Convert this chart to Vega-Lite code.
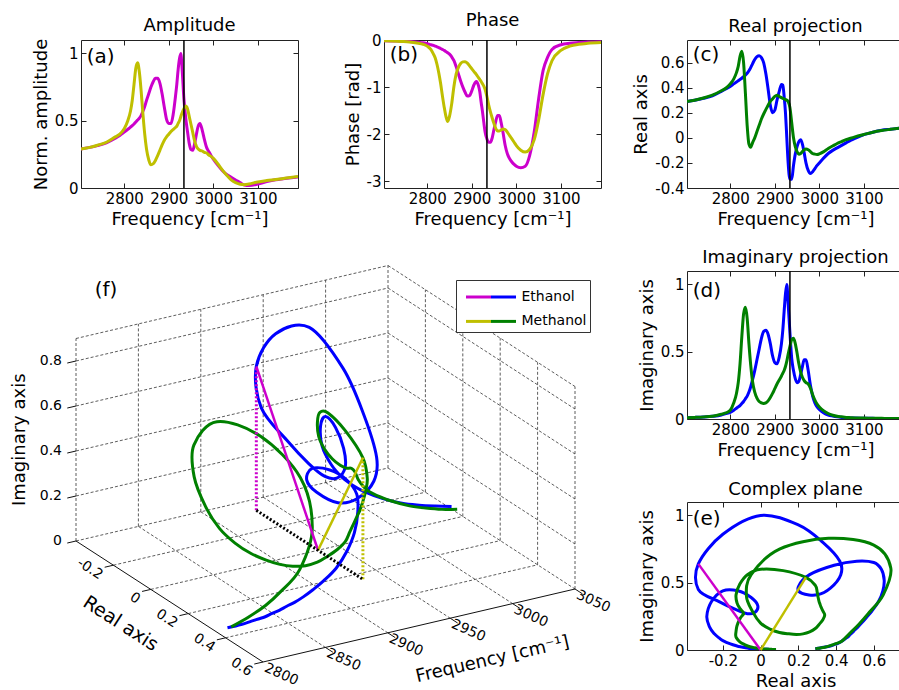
{
"$schema": "https://vega.github.io/schema/vega-lite/v6.json",
"autosize": "none",
"padding": {"left": 81, "top": 40, "right": 818, "bottom": 650},
"background": "white",
"config": {
  "font": "DejaVu Sans",
  "view": {"stroke": "#222", "strokeWidth": 1},
  "axis": {"domain": false, "grid": false, "tickSize": -5, "tickColor": "#222", "tickWidth": 1, "labelFontSize": 15, "labelColor": "black", "labelPadding": 8, "labelFlush": false, "labelOverlap": false, "labelSeparation": -30, "labelBound": false, "titleFontSize": 18, "titleFontWeight": "normal", "titleColor": "black", "titlePadding": 4},
  "axisY": {"labelOverlap": false},
  "title": {"fontSize": 18, "fontWeight": "normal", "color": "black", "offset": 3, "frame": "group"},
  "legend": {"labelFontSize": 14, "labelColor": "black"}
},
"datasets": {
  "spec": [
{"s":"Ethanol","f":2703,"re":0.29,"im":0.01,"amp":0.29,"ph":-0.015},
{"s":"Ethanol","f":2720,"re":0.30,"im":0.012,"amp":0.30,"ph":-0.02},
{"s":"Ethanol","f":2740,"re":0.315,"im":0.015,"amp":0.315,"ph":-0.025},
{"s":"Ethanol","f":2760,"re":0.335,"im":0.02,"amp":0.336,"ph":-0.03},
{"s":"Ethanol","f":2780,"re":0.37,"im":0.03,"amp":0.37,"ph":-0.05},
{"s":"Ethanol","f":2790,"re":0.39,"im":0.04,"amp":0.39,"ph":-0.06},
{"s":"Ethanol","f":2800,"re":0.41,"im":0.05,"amp":0.415,"ph":-0.08},
{"s":"Ethanol","f":2808,"re":0.43,"im":0.065,"amp":0.436,"ph":-0.10},
{"s":"Ethanol","f":2814,"re":0.445,"im":0.08,"amp":0.452,"ph":-0.115},
{"s":"Ethanol","f":2818,"re":0.455,"im":0.09,"amp":0.464,"ph":-0.13},
{"s":"Ethanol","f":2822,"re":0.465,"im":0.10,"amp":0.476,"ph":-0.145},
{"s":"Ethanol","f":2826,"re":0.475,"im":0.115,"amp":0.49,"ph":-0.16},
{"s":"Ethanol","f":2830,"re":0.487,"im":0.13,"amp":0.505,"ph":-0.18},
{"s":"Ethanol","f":2834,"re":0.50,"im":0.15,"amp":0.52,"ph":-0.20},
{"s":"Ethanol","f":2838,"re":0.515,"im":0.17,"amp":0.54,"ph":-0.22},
{"s":"Ethanol","f":2842,"re":0.535,"im":0.20,"amp":0.57,"ph":-0.245},
{"s":"Ethanol","f":2846,"re":0.56,"im":0.24,"amp":0.605,"ph":-0.27},
{"s":"Ethanol","f":2850,"re":0.59,"im":0.29,"amp":0.65,"ph":-0.30},
{"s":"Ethanol","f":2855,"re":0.625,"im":0.36,"amp":0.70,"ph":-0.36},
{"s":"Ethanol","f":2860,"re":0.648,"im":0.44,"amp":0.75,"ph":-0.44},
{"s":"Ethanol","f":2865,"re":0.655,"im":0.52,"amp":0.79,"ph":-0.57},
{"s":"Ethanol","f":2870,"re":0.64,"im":0.60,"amp":0.815,"ph":-0.72},
{"s":"Ethanol","f":2875,"re":0.60,"im":0.65,"amp":0.815,"ph":-0.87},
{"s":"Ethanol","f":2880,"re":0.51,"im":0.66,"amp":0.78,"ph":-1.0},
{"s":"Ethanol","f":2885,"re":0.39,"im":0.63,"amp":0.70,"ph":-1.11},
{"s":"Ethanol","f":2890,"re":0.26,"im":0.56,"amp":0.60,"ph":-1.19},
{"s":"Ethanol","f":2895,"re":0.20,"im":0.47,"amp":0.51,"ph":-1.18},
{"s":"Ethanol","f":2900,"re":0.22,"im":0.42,"amp":0.48,"ph":-1.08},
{"s":"Ethanol","f":2905,"re":0.30,"im":0.41,"amp":0.48,"ph":-0.95},
{"s":"Ethanol","f":2910,"re":0.37,"im":0.46,"amp":0.55,"ph":-0.88},
{"s":"Ethanol","f":2915,"re":0.425,"im":0.56,"amp":0.68,"ph":-0.97},
{"s":"Ethanol","f":2918,"re":0.42,"im":0.66,"amp":0.77,"ph":-1.1},
{"s":"Ethanol","f":2921,"re":0.33,"im":0.80,"amp":0.88,"ph":-1.32},
{"s":"Ethanol","f":2924,"re":0.20,"im":0.93,"amp":0.96,"ph":-1.52},
{"s":"Ethanol","f":2927,"re":0.0,"im":1.0,"amp":1.0,"ph":-1.75},
{"s":"Ethanol","f":2930,"re":-0.20,"im":0.86,"amp":0.88,"ph":-1.96},
{"s":"Ethanol","f":2934,"re":-0.33,"im":0.64,"amp":0.66,"ph":-2.1},
{"s":"Ethanol","f":2938,"re":-0.33,"im":0.45,"amp":0.52,"ph":-2.17},
{"s":"Ethanol","f":2942,"re":-0.22,"im":0.36,"amp":0.42,"ph":-2.17},
{"s":"Ethanol","f":2946,"re":-0.13,"im":0.30,"amp":0.33,"ph":-2.07},
{"s":"Ethanol","f":2950,"re":-0.07,"im":0.27,"amp":0.285,"ph":-1.89},
{"s":"Ethanol","f":2954,"re":-0.03,"im":0.28,"amp":0.28,"ph":-1.72},
{"s":"Ethanol","f":2958,"re":-0.015,"im":0.33,"amp":0.33,"ph":-1.6},
{"s":"Ethanol","f":2962,"re":-0.05,"im":0.39,"amp":0.40,"ph":-1.6},
{"s":"Ethanol","f":2966,"re":-0.12,"im":0.44,"amp":0.46,"ph":-1.76},
{"s":"Ethanol","f":2970,"re":-0.20,"im":0.44,"amp":0.48,"ph":-1.96},
{"s":"Ethanol","f":2975,"re":-0.26,"im":0.36,"amp":0.43,"ph":-2.24},
{"s":"Ethanol","f":2980,"re":-0.285,"im":0.25,"amp":0.36,"ph":-2.42},
{"s":"Ethanol","f":2985,"re":-0.27,"im":0.17,"amp":0.30,"ph":-2.52},
{"s":"Ethanol","f":2990,"re":-0.245,"im":0.12,"amp":0.27,"ph":-2.59},
{"s":"Ethanol","f":2995,"re":-0.22,"im":0.09,"amp":0.24,"ph":-2.64},
{"s":"Ethanol","f":3000,"re":-0.20,"im":0.07,"amp":0.215,"ph":-2.68},
{"s":"Ethanol","f":3010,"re":-0.16,"im":0.045,"amp":0.17,"ph":-2.71},
{"s":"Ethanol","f":3020,"re":-0.125,"im":0.03,"amp":0.13,"ph":-2.68},
{"s":"Ethanol","f":3030,"re":-0.10,"im":0.022,"amp":0.10,"ph":-2.45},
{"s":"Ethanol","f":3040,"re":-0.08,"im":0.016,"amp":0.08,"ph":-1.96},
{"s":"Ethanol","f":3050,"re":-0.06,"im":0.012,"amp":0.06,"ph":-1.25},
{"s":"Ethanol","f":3060,"re":-0.04,"im":0.01,"amp":0.04,"ph":-0.65},
{"s":"Ethanol","f":3070,"re":-0.02,"im":0.008,"amp":0.022,"ph":-0.37},
{"s":"Ethanol","f":3080,"re":-0.005,"im":0.007,"amp":0.018,"ph":-0.2},
{"s":"Ethanol","f":3100,"re":0.025,"im":0.006,"amp":0.03,"ph":-0.1},
{"s":"Ethanol","f":3120,"re":0.045,"im":0.005,"amp":0.048,"ph":-0.07},
{"s":"Ethanol","f":3140,"re":0.06,"im":0.004,"amp":0.062,"ph":-0.055},
{"s":"Ethanol","f":3160,"re":0.068,"im":0.004,"amp":0.07,"ph":-0.042},
{"s":"Ethanol","f":3190,"re":0.08,"im":0.003,"amp":0.082,"ph":-0.035},
{"s":"Methanol","f":2703,"re":0.29,"im":0.01,"amp":0.29,"ph":-0.015},
{"s":"Methanol","f":2720,"re":0.30,"im":0.012,"amp":0.30,"ph":-0.02},
{"s":"Methanol","f":2740,"re":0.318,"im":0.015,"amp":0.318,"ph":-0.03},
{"s":"Methanol","f":2760,"re":0.34,"im":0.02,"amp":0.34,"ph":-0.04},
{"s":"Methanol","f":2780,"re":0.375,"im":0.035,"amp":0.38,"ph":-0.07},
{"s":"Methanol","f":2790,"re":0.395,"im":0.045,"amp":0.40,"ph":-0.09},
{"s":"Methanol","f":2800,"re":0.43,"im":0.065,"amp":0.44,"ph":-0.13},
{"s":"Methanol","f":2808,"re":0.47,"im":0.12,"amp":0.50,"ph":-0.2},
{"s":"Methanol","f":2814,"re":0.52,"im":0.19,"amp":0.57,"ph":-0.3},
{"s":"Methanol","f":2818,"re":0.57,"im":0.27,"amp":0.65,"ph":-0.38},
{"s":"Methanol","f":2822,"re":0.65,"im":0.41,"amp":0.77,"ph":-0.52},
{"s":"Methanol","f":2826,"re":0.69,"im":0.61,"amp":0.89,"ph":-0.70},
{"s":"Methanol","f":2830,"re":0.60,"im":0.78,"amp":0.93,"ph":-0.92},
{"s":"Methanol","f":2834,"re":0.36,"im":0.83,"amp":0.86,"ph":-1.18},
{"s":"Methanol","f":2838,"re":0.10,"im":0.75,"amp":0.72,"ph":-1.42},
{"s":"Methanol","f":2842,"re":-0.05,"im":0.56,"amp":0.55,"ph":-1.62},
{"s":"Methanol","f":2846,"re":-0.075,"im":0.40,"amp":0.40,"ph":-1.73},
{"s":"Methanol","f":2850,"re":-0.04,"im":0.28,"amp":0.29,"ph":-1.62},
{"s":"Methanol","f":2855,"re":0.0,"im":0.20,"amp":0.21,"ph":-1.35},
{"s":"Methanol","f":2860,"re":0.05,"im":0.155,"amp":0.172,"ph":-0.98},
{"s":"Methanol","f":2865,"re":0.10,"im":0.13,"amp":0.18,"ph":-0.72},
{"s":"Methanol","f":2870,"re":0.15,"im":0.12,"amp":0.205,"ph":-0.58},
{"s":"Methanol","f":2875,"re":0.19,"im":0.116,"amp":0.24,"ph":-0.50},
{"s":"Methanol","f":2880,"re":0.225,"im":0.12,"amp":0.28,"ph":-0.465},
{"s":"Methanol","f":2885,"re":0.26,"im":0.135,"amp":0.32,"ph":-0.46},
{"s":"Methanol","f":2890,"re":0.29,"im":0.16,"amp":0.355,"ph":-0.49},
{"s":"Methanol","f":2895,"re":0.31,"im":0.19,"amp":0.38,"ph":-0.55},
{"s":"Methanol","f":2900,"re":0.33,"im":0.225,"amp":0.40,"ph":-0.61},
{"s":"Methanol","f":2905,"re":0.34,"im":0.26,"amp":0.42,"ph":-0.67},
{"s":"Methanol","f":2910,"re":0.33,"im":0.29,"amp":0.435,"ph":-0.73},
{"s":"Methanol","f":2915,"re":0.32,"im":0.32,"amp":0.45,"ph":-0.80},
{"s":"Methanol","f":2918,"re":0.315,"im":0.34,"amp":0.46,"ph":-0.84},
{"s":"Methanol","f":2921,"re":0.31,"im":0.36,"amp":0.48,"ph":-0.88},
{"s":"Methanol","f":2924,"re":0.305,"im":0.39,"amp":0.50,"ph":-0.93},
{"s":"Methanol","f":2927,"re":0.30,"im":0.43,"amp":0.53,"ph":-0.98},
{"s":"Methanol","f":2930,"re":0.29,"im":0.48,"amp":0.56,"ph":-1.05},
{"s":"Methanol","f":2934,"re":0.24,"im":0.54,"amp":0.59,"ph":-1.2},
{"s":"Methanol","f":2938,"re":0.12,"im":0.59,"amp":0.61,"ph":-1.38},
{"s":"Methanol","f":2942,"re":0.0,"im":0.60,"amp":0.59,"ph":-1.53},
{"s":"Methanol","f":2946,"re":-0.07,"im":0.56,"amp":0.53,"ph":-1.66},
{"s":"Methanol","f":2950,"re":-0.11,"im":0.49,"amp":0.47,"ph":-1.78},
{"s":"Methanol","f":2954,"re":-0.13,"im":0.41,"amp":0.41,"ph":-1.88},
{"s":"Methanol","f":2958,"re":-0.125,"im":0.35,"amp":0.35,"ph":-1.93},
{"s":"Methanol","f":2962,"re":-0.11,"im":0.31,"amp":0.31,"ph":-1.93},
{"s":"Methanol","f":2966,"re":-0.095,"im":0.285,"amp":0.29,"ph":-1.91},
{"s":"Methanol","f":2970,"re":-0.09,"im":0.27,"amp":0.28,"ph":-1.89},
{"s":"Methanol","f":2975,"re":-0.095,"im":0.26,"amp":0.275,"ph":-1.90},
{"s":"Methanol","f":2980,"re":-0.11,"im":0.23,"amp":0.265,"ph":-1.96},
{"s":"Methanol","f":2985,"re":-0.125,"im":0.18,"amp":0.26,"ph":-2.03},
{"s":"Methanol","f":2990,"re":-0.13,"im":0.14,"amp":0.245,"ph":-2.10},
{"s":"Methanol","f":2995,"re":-0.132,"im":0.11,"amp":0.235,"ph":-2.17},
{"s":"Methanol","f":3000,"re":-0.128,"im":0.09,"amp":0.22,"ph":-2.24},
{"s":"Methanol","f":3010,"re":-0.11,"im":0.06,"amp":0.18,"ph":-2.34},
{"s":"Methanol","f":3020,"re":-0.085,"im":0.04,"amp":0.135,"ph":-2.38},
{"s":"Methanol","f":3030,"re":-0.065,"im":0.028,"amp":0.095,"ph":-2.32},
{"s":"Methanol","f":3040,"re":-0.045,"im":0.02,"amp":0.06,"ph":-2.12},
{"s":"Methanol","f":3050,"re":-0.03,"im":0.016,"amp":0.04,"ph":-1.7},
{"s":"Methanol","f":3060,"re":-0.015,"im":0.012,"amp":0.028,"ph":-1.16},
{"s":"Methanol","f":3070,"re":-0.003,"im":0.01,"amp":0.025,"ph":-0.72},
{"s":"Methanol","f":3080,"re":0.008,"im":0.008,"amp":0.03,"ph":-0.44},
{"s":"Methanol","f":3100,"re":0.027,"im":0.007,"amp":0.045,"ph":-0.22},
{"s":"Methanol","f":3120,"re":0.045,"im":0.006,"amp":0.055,"ph":-0.13},
{"s":"Methanol","f":3140,"re":0.058,"im":0.005,"amp":0.063,"ph":-0.09},
{"s":"Methanol","f":3160,"re":0.068,"im":0.004,"amp":0.072,"ph":-0.07},
{"s":"Methanol","f":3190,"re":0.082,"im":0.004,"amp":0.086,"ph":-0.055}
  ],
  "mk": [
    {"s":"Ethanol","f":2934,"re":-0.33,"im":0.64},
    {"s":"Methanol","f":2934,"re":0.24,"im":0.54}
  ],
  "g3": [
    {"k":"g","f1":2850,"r1":-0.4,"i1":0,"f2":2850,"r2":0.6,"i2":0},
    {"k":"g","f1":2900,"r1":-0.4,"i1":0,"f2":2900,"r2":0.6,"i2":0},
    {"k":"g","f1":2950,"r1":-0.4,"i1":0,"f2":2950,"r2":0.6,"i2":0},
    {"k":"g","f1":3000,"r1":-0.4,"i1":0,"f2":3000,"r2":0.6,"i2":0},
    {"k":"g","f1":3050,"r1":-0.4,"i1":0,"f2":3050,"r2":0.6,"i2":0},
    {"k":"g","f1":2800,"r1":-0.4,"i1":0,"f2":3050,"r2":-0.4,"i2":0},
    {"k":"g","f1":2800,"r1":-0.2,"i1":0,"f2":3050,"r2":-0.2,"i2":0},
    {"k":"g","f1":2800,"r1":0,"i1":0,"f2":3050,"r2":0,"i2":0},
    {"k":"g","f1":2800,"r1":0.2,"i1":0,"f2":3050,"r2":0.2,"i2":0},
    {"k":"g","f1":2800,"r1":0.4,"i1":0,"f2":3050,"r2":0.4,"i2":0},
    {"k":"g","f1":2800,"r1":-0.4,"i1":0,"f2":2800,"r2":-0.4,"i2":0.9},
    {"k":"g","f1":2850,"r1":-0.4,"i1":0,"f2":2850,"r2":-0.4,"i2":0.9},
    {"k":"g","f1":2900,"r1":-0.4,"i1":0,"f2":2900,"r2":-0.4,"i2":0.9},
    {"k":"g","f1":2950,"r1":-0.4,"i1":0,"f2":2950,"r2":-0.4,"i2":0.9},
    {"k":"g","f1":3000,"r1":-0.4,"i1":0,"f2":3000,"r2":-0.4,"i2":0.9},
    {"k":"g","f1":3050,"r1":-0.4,"i1":0,"f2":3050,"r2":-0.4,"i2":0.9},
    {"k":"g","f1":2800,"r1":-0.4,"i1":0.2,"f2":3050,"r2":-0.4,"i2":0.2},
    {"k":"g","f1":2800,"r1":-0.4,"i1":0.4,"f2":3050,"r2":-0.4,"i2":0.4},
    {"k":"g","f1":2800,"r1":-0.4,"i1":0.6,"f2":3050,"r2":-0.4,"i2":0.6},
    {"k":"g","f1":2800,"r1":-0.4,"i1":0.8,"f2":3050,"r2":-0.4,"i2":0.8},
    {"k":"g","f1":2800,"r1":-0.4,"i1":0.9,"f2":3050,"r2":-0.4,"i2":0.9},
    {"k":"g","f1":3050,"r1":-0.2,"i1":0,"f2":3050,"r2":-0.2,"i2":0.9},
    {"k":"g","f1":3050,"r1":0,"i1":0,"f2":3050,"r2":0,"i2":0.9},
    {"k":"g","f1":3050,"r1":0.2,"i1":0,"f2":3050,"r2":0.2,"i2":0.9},
    {"k":"g","f1":3050,"r1":0.4,"i1":0,"f2":3050,"r2":0.4,"i2":0.9},
    {"k":"g","f1":3050,"r1":0.6,"i1":0,"f2":3050,"r2":0.6,"i2":0.9},
    {"k":"g","f1":3050,"r1":-0.4,"i1":0.2,"f2":3050,"r2":0.6,"i2":0.2},
    {"k":"g","f1":3050,"r1":-0.4,"i1":0.4,"f2":3050,"r2":0.6,"i2":0.4},
    {"k":"g","f1":3050,"r1":-0.4,"i1":0.6,"f2":3050,"r2":0.6,"i2":0.6},
    {"k":"g","f1":3050,"r1":-0.4,"i1":0.8,"f2":3050,"r2":0.6,"i2":0.8},
    {"k":"g","f1":3050,"r1":-0.4,"i1":0.9,"f2":3050,"r2":0.6,"i2":0.9},
    {"k":"a","f1":2800,"r1":-0.4,"i1":0,"f2":2800,"r2":0.6,"i2":0},
    {"k":"a","f1":2800,"r1":0.6,"i1":0,"f2":3050,"r2":0.6,"i2":0},
    {"k":"a","f1":2800,"r1":-0.4,"i1":0,"f2":2793,"r2":-0.4,"i2":0},
    {"k":"a","f1":2800,"r1":-0.4,"i1":0.2,"f2":2793,"r2":-0.4,"i2":0.2},
    {"k":"a","f1":2800,"r1":-0.4,"i1":0.4,"f2":2793,"r2":-0.4,"i2":0.4},
    {"k":"a","f1":2800,"r1":-0.4,"i1":0.6,"f2":2793,"r2":-0.4,"i2":0.6},
    {"k":"a","f1":2800,"r1":-0.4,"i1":0.8,"f2":2793,"r2":-0.4,"i2":0.8},
    {"k":"a","f1":2800,"r1":-0.2,"i1":0,"f2":2793,"r2":-0.2,"i2":0},
    {"k":"a","f1":2800,"r1":0,"i1":0,"f2":2793,"r2":0,"i2":0},
    {"k":"a","f1":2800,"r1":0.2,"i1":0,"f2":2793,"r2":0.2,"i2":0},
    {"k":"a","f1":2800,"r1":0.4,"i1":0,"f2":2793,"r2":0.4,"i2":0},
    {"k":"a","f1":2800,"r1":0.6,"i1":0,"f2":2793,"r2":0.6,"i2":0},
    {"k":"a","f1":2850,"r1":0.6,"i1":0,"f2":2850,"r2":0.64,"i2":0},
    {"k":"a","f1":2900,"r1":0.6,"i1":0,"f2":2900,"r2":0.64,"i2":0},
    {"k":"a","f1":2950,"r1":0.6,"i1":0,"f2":2950,"r2":0.64,"i2":0},
    {"k":"a","f1":3000,"r1":0.6,"i1":0,"f2":3000,"r2":0.64,"i2":0},
    {"k":"a","f1":3050,"r1":0.6,"i1":0,"f2":3050,"r2":0.64,"i2":0}
  ],
  "l3": [
    {"ax":"im","f":2800,"re":-0.4,"im":0,"t":"0"},
    {"ax":"im","f":2800,"re":-0.4,"im":0.2,"t":"0.2"},
    {"ax":"im","f":2800,"re":-0.4,"im":0.4,"t":"0.4"},
    {"ax":"im","f":2800,"re":-0.4,"im":0.6,"t":"0.6"},
    {"ax":"im","f":2800,"re":-0.4,"im":0.8,"t":"0.8"},
    {"ax":"re","f":2800,"re":-0.2,"im":0,"t":"-0.2"},
    {"ax":"re","f":2800,"re":0,"im":0,"t":"0"},
    {"ax":"re","f":2800,"re":0.2,"im":0,"t":"0.2"},
    {"ax":"re","f":2800,"re":0.4,"im":0,"t":"0.4"},
    {"ax":"re","f":2800,"re":0.6,"im":0,"t":"0.6"},
    {"ax":"fr","f":2800,"re":0.6,"im":0,"t":"2800"},
    {"ax":"fr","f":2850,"re":0.6,"im":0,"t":"2850"},
    {"ax":"fr","f":2900,"re":0.6,"im":0,"t":"2900"},
    {"ax":"fr","f":2950,"re":0.6,"im":0,"t":"2950"},
    {"ax":"fr","f":3000,"re":0.6,"im":0,"t":"3000"},
    {"ax":"fr","f":3050,"re":0.6,"im":0,"t":"3050"},
    {"ax":"ti","f":2800,"re":-0.4,"im":0.45,"t":"Imaginary axis"},
    {"ax":"tr","f":2800,"re":-0.03,"im":0,"t":"Real axis"},
    {"ax":"tf","f":2975,"re":0.6,"im":0,"t":"Frequency [cm⁻¹]"},
    {"ax":"pl","f":2815,"re":-0.4,"im":1.07,"t":"(f)"}
  ],
  "pan": [
    {"f": 2934, "fl": 2716, "amp": 0.93, "ph": -0.45, "re": 0.61, "im": 0.91, "t": "x"}
  ]
},
"columns": 3,
"spacing": {"row": 83, "column": 86},
"bounds": "flush",
"resolve": {"scale": {"color": "independent", "stroke": "independent"}, "legend": {"color": "independent", "stroke": "independent"}},
"concat": [
 {
  "width": 217, "height": 148,
  "title": {"text": "Amplitude"},
  "resolve": {"axis": {"x": "independent", "y": "independent"}},
  "layer": [
   {"data": {"name": "spec"},
    "mark": {"type": "line", "interpolate": "monotone", "strokeWidth": 3, "clip": true},
    "encoding": {
     "x": {"field": "f", "type": "quantitative", "scale": {"domain": [2703, 3190], "nice": false, "zero": false}, "axis": {"orient": "bottom", "values": [2800, 2900, 3000, 3100], "labelOverlap": false, "labelExpr": "'' + datum.value", "title": "Frequency [cm⁻¹]"}},
     "y": {"field": "amp", "type": "quantitative", "scale": {"domain": [0, 1.1], "nice": false}, "axis": {"orient": "left", "values": [0, 0.5, 1], "labelOverlap": false, "labelExpr": "'' + datum.value", "title": "Norm. amplitude"}},
     "color": {"field": "s", "type": "nominal", "scale": {"domain": ["Ethanol", "Methanol"], "range": ["#CC00CC", "#BFBF00"]}, "legend": null}
    }},
   {"data": {"name": "pan"},
    "mark": {"type": "rule", "color": "black", "strokeWidth": 1.5},
    "encoding": {"x": {"field": "f", "type": "quantitative", "axis": {"orient": "top", "values": [2800, 2900, 3000, 3100], "labels": false, "title": null}}}},
   {"data": {"name": "pan"},
    "mark": {"type": "text", "align": "left", "baseline": "alphabetic", "fontSize": 20, "text": "(a)"},
    "encoding": {"x": {"field": "fl", "type": "quantitative", "axis": null}, "y": {"field": "amp", "type": "quantitative", "axis": {"orient": "right", "values": [0, 0.5, 1], "labels": false, "title": null}}}}
  ]
 },
 {
  "width": 217, "height": 148,
  "title": {"text": "Phase"},
  "resolve": {"axis": {"x": "independent", "y": "independent"}},
  "layer": [
   {"data": {"name": "spec"},
    "mark": {"type": "line", "interpolate": "monotone", "strokeWidth": 3, "clip": true},
    "encoding": {
     "x": {"field": "f", "type": "quantitative", "scale": {"domain": [2703, 3190], "nice": false, "zero": false}, "axis": {"orient": "bottom", "values": [2800, 2900, 3000, 3100], "labelOverlap": false, "labelExpr": "'' + datum.value", "title": "Frequency [cm⁻¹]"}},
     "y": {"field": "ph", "type": "quantitative", "scale": {"domain": [-3.1416, 0], "nice": false, "zero": false}, "axis": {"orient": "left", "values": [-3, -2, -1, 0], "labelOverlap": false, "labelExpr": "'' + datum.value", "title": "Phase [rad]"}},
     "color": {"field": "s", "type": "nominal", "scale": {"domain": ["Ethanol", "Methanol"], "range": ["#CC00CC", "#BFBF00"]}, "legend": null}
    }},
   {"data": {"name": "pan"},
    "mark": {"type": "rule", "color": "black", "strokeWidth": 1.5},
    "encoding": {"x": {"field": "f", "type": "quantitative", "axis": {"orient": "top", "values": [2800, 2900, 3000, 3100], "labels": false, "title": null}}}},
   {"data": {"name": "pan"},
    "mark": {"type": "text", "align": "left", "baseline": "alphabetic", "fontSize": 20, "text": "(b)"},
    "encoding": {"x": {"field": "fl", "type": "quantitative", "axis": null}, "y": {"field": "ph", "type": "quantitative", "axis": {"orient": "right", "values": [-3, -2, -1, 0], "labels": false, "title": null}}}}
  ]
 },
 {
  "width": 217, "height": 148,
  "title": {"text": "Real projection"},
  "resolve": {"axis": {"x": "independent", "y": "independent"}},
  "layer": [
   {"data": {"name": "spec"},
    "mark": {"type": "line", "interpolate": "monotone", "strokeWidth": 3, "clip": true},
    "encoding": {
     "x": {"field": "f", "type": "quantitative", "scale": {"domain": [2703, 3190], "nice": false, "zero": false}, "axis": {"orient": "bottom", "values": [2800, 2900, 3000, 3100], "labelOverlap": false, "labelExpr": "'' + datum.value", "title": "Frequency [cm⁻¹]"}},
     "y": {"field": "re", "type": "quantitative", "scale": {"domain": [-0.4, 0.78], "nice": false, "zero": false}, "axis": {"orient": "left", "values": [-0.4, -0.2, 0, 0.2, 0.4, 0.6], "tickCount": 6, "labelOverlap": false, "labelSeparation": -30, "labelExpr": "'' + datum.value", "title": "Real axis"}},
     "color": {"field": "s", "type": "nominal", "scale": {"domain": ["Ethanol", "Methanol"], "range": ["#0000FF", "#008000"]}, "legend": null}
    }},
   {"data": {"name": "pan"},
    "mark": {"type": "rule", "color": "black", "strokeWidth": 1.5},
    "encoding": {"x": {"field": "f", "type": "quantitative", "axis": {"orient": "top", "values": [2800, 2900, 3000, 3100], "labels": false, "title": null}}}},
   {"data": {"name": "pan"},
    "mark": {"type": "text", "align": "left", "baseline": "alphabetic", "fontSize": 20, "text": "(c)"},
    "encoding": {"x": {"field": "fl", "type": "quantitative", "axis": null}, "y": {"field": "re", "type": "quantitative", "axis": {"orient": "right", "values": [-0.4, -0.2, 0, 0.2, 0.4, 0.6], "labels": false, "title": null}}}}
  ]
 },
 {
  "width": 217, "height": 148,
  "view": {"stroke": null},
  "layer": [
   {"data": {"name": "g3"},
    "transform": [{"filter": "datum.k == 'g'"},
      {"calculate": "1.248*(datum.f1-2800)+187*(datum.r1-0.6)", "as": "u1"},
      {"calculate": "0.292*(datum.f1-2800)-121*(datum.r1-0.6)+225*datum.i1", "as": "v1"},
      {"calculate": "1.248*(datum.f2-2800)+187*(datum.r2-0.6)", "as": "u2"},
      {"calculate": "0.292*(datum.f2-2800)-121*(datum.r2-0.6)+225*datum.i2", "as": "v2"}],
    "mark": {"type": "rule", "color": "#333", "strokeWidth": 0.8, "strokeDash": [3, 2]},
    "encoding": {
     "x": {"field": "u1", "type": "quantitative", "scale": {"domain": [-182, 35], "nice": false, "zero": false}, "axis": null},
     "y": {"field": "v1", "type": "quantitative", "scale": {"domain": [243, 391], "nice": false, "zero": false}, "axis": null},
     "x2": {"field": "u2"}, "y2": {"field": "v2"}}},
   {"data": {"name": "g3"},
    "transform": [{"filter": "datum.k == 'a'"},
      {"calculate": "1.248*(datum.f1-2800)+187*(datum.r1-0.6)", "as": "u1"},
      {"calculate": "0.292*(datum.f1-2800)-121*(datum.r1-0.6)+225*datum.i1", "as": "v1"},
      {"calculate": "1.248*(datum.f2-2800)+187*(datum.r2-0.6)", "as": "u2"},
      {"calculate": "0.292*(datum.f2-2800)-121*(datum.r2-0.6)+225*datum.i2", "as": "v2"}],
    "mark": {"type": "rule", "color": "#111", "strokeWidth": 1},
    "encoding": {
     "x": {"field": "u1", "type": "quantitative", "axis": null},
     "y": {"field": "v1", "type": "quantitative", "axis": null},
     "x2": {"field": "u2"}, "y2": {"field": "v2"}}},
   {"data": {"name": "spec"},
    "transform": [{"filter": "datum.f >= 2800 && datum.f <= 3050"},
      {"calculate": "1.248*(datum.f-2800)+187*(datum.re-0.6)", "as": "u1"},
      {"calculate": "0.292*(datum.f-2800)-121*(datum.re-0.6)+225*datum.im", "as": "v1"}],
    "mark": {"type": "line", "interpolate": "cardinal", "strokeWidth": 3},
    "encoding": {
     "x": {"field": "u1", "type": "quantitative", "axis": null},
     "y": {"field": "v1", "type": "quantitative", "axis": null},
     "order": {"field": "f", "type": "quantitative"},
     "color": {"field": "s", "type": "nominal", "scale": {"domain": ["Ethanol", "Methanol"], "range": ["#0000FF", "#008000"]},
       "legend": {"orient": "none", "legendX": 375, "legendY": 9, "title": null, "symbolType": "stroke", "symbolSize": 625, "symbolStrokeWidth": 3, "symbolOffset": 30.5, "padding": 3, "strokeColor": "#333", "fillColor": "white", "labelFontSize": 14, "labelOffset": 4, "rowPadding": 3.4}}}},
   {"data": {"name": "mk"},
    "transform": [
      {"calculate": "datum.s + ' '", "as": "sp"},
      {"calculate": "1.248*(datum.f-2800)+187*(0-0.6)", "as": "u1"},
      {"calculate": "0.292*(datum.f-2800)-121*(0-0.6)", "as": "v1"},
      {"calculate": "1.248*(datum.f-2800)+187*(datum.re-0.6)", "as": "u2"},
      {"calculate": "0.292*(datum.f-2800)-121*(datum.re-0.6)+225*datum.im", "as": "v2"}],
    "mark": {"type": "rule", "strokeWidth": 2.5},
    "encoding": {
     "x": {"field": "u1", "type": "quantitative", "axis": null},
     "y": {"field": "v1", "type": "quantitative", "axis": null},
     "x2": {"field": "u2"}, "y2": {"field": "v2"},
     "stroke": {"field": "sp", "type": "nominal", "scale": {"domain": ["Ethanol ", "Methanol "], "range": ["#CC00CC", "#BFBF00"]},
       "legend": {"orient": "none", "legendX": 375, "legendY": 9, "title": null, "symbolType": "stroke", "symbolSize": 625, "symbolStrokeWidth": 3, "symbolOffset": 5.5, "padding": 3, "labelExpr": "' '", "labelFontSize": 14, "labelOffset": 4, "rowPadding": 3.4}}}},
   {"data": {"name": "mk"},
    "transform": [
      {"calculate": "datum.s + ' '", "as": "sp"},
      {"calculate": "1.248*(datum.f-2800)+187*(datum.re-0.6)", "as": "u1"},
      {"calculate": "0.292*(datum.f-2800)-121*(datum.re-0.6)", "as": "v1"},
      {"calculate": "0.292*(datum.f-2800)-121*(datum.re-0.6)+225*datum.im", "as": "v2"}],
    "mark": {"type": "rule", "strokeWidth": 3, "strokeDash": [2, 2]},
    "encoding": {
     "x": {"field": "u1", "type": "quantitative", "axis": null},
     "y": {"field": "v1", "type": "quantitative", "axis": null},
     "y2": {"field": "v2"},
     "stroke": {"field": "sp", "type": "nominal"}}},
   {"data": {"name": "mk"},
    "transform": [
      {"calculate": "1.248*(datum.f-2800)+187*(datum.re-0.6)", "as": "u1"},
      {"calculate": "0.292*(datum.f-2800)-121*(datum.re-0.6)", "as": "v1"}],
    "mark": {"type": "line", "strokeWidth": 3, "strokeDash": [2, 2], "color": "black"},
    "encoding": {
     "x": {"field": "u1", "type": "quantitative", "axis": null},
     "y": {"field": "v1", "type": "quantitative", "axis": null},
     "order": {"field": "re", "type": "quantitative"}}},
   {"data": {"name": "l3"},
    "transform": [{"filter": "datum.ax == 'im'"},
      {"calculate": "1.248*(datum.f-2800)+187*(datum.re-0.6)", "as": "u1"},
      {"calculate": "0.292*(datum.f-2800)-121*(datum.re-0.6)+225*datum.im", "as": "v1"}],
    "mark": {"type": "text", "align": "right", "baseline": "middle", "dx": -14, "fontSize": 14},
    "encoding": {
     "x": {"field": "u1", "type": "quantitative", "axis": null},
     "y": {"field": "v1", "type": "quantitative", "axis": null},
     "text": {"field": "t", "type": "nominal"}}},
   {"data": {"name": "l3"},
    "transform": [{"filter": "datum.ax == 're'"},
      {"calculate": "1.248*(datum.f-2800)+187*(datum.re-0.6)", "as": "u1"},
      {"calculate": "0.292*(datum.f-2800)-121*(datum.re-0.6)+225*datum.im", "as": "v1"}],
    "mark": {"type": "text", "align": "right", "baseline": "middle", "angle": 33, "dx": -4, "dy": 16, "fontSize": 14},
    "encoding": {
     "x": {"field": "u1", "type": "quantitative", "axis": null},
     "y": {"field": "v1", "type": "quantitative", "axis": null},
     "text": {"field": "t", "type": "nominal"}}},
   {"data": {"name": "l3"},
    "transform": [{"filter": "datum.ax == 'fr'"},
      {"calculate": "1.248*(datum.f-2800)+187*(datum.re-0.6)", "as": "u1"},
      {"calculate": "0.292*(datum.f-2800)-121*(datum.re-0.6)+225*datum.im", "as": "v1"}],
    "mark": {"type": "text", "align": "left", "baseline": "middle", "angle": 24, "dx": 4, "dy": 4, "fontSize": 14},
    "encoding": {
     "x": {"field": "u1", "type": "quantitative", "axis": null},
     "y": {"field": "v1", "type": "quantitative", "axis": null},
     "text": {"field": "t", "type": "nominal"}}},
   {"data": {"name": "l3"},
    "transform": [{"filter": "datum.ax == 'ti'"},
      {"calculate": "1.248*(datum.f-2800)+187*(datum.re-0.6)", "as": "u1"},
      {"calculate": "0.292*(datum.f-2800)-121*(datum.re-0.6)+225*datum.im", "as": "v1"}],
    "mark": {"type": "text", "align": "center", "baseline": "middle", "angle": -90, "dy": -56, "fontSize": 18},
    "encoding": {
     "x": {"field": "u1", "type": "quantitative", "axis": null},
     "y": {"field": "v1", "type": "quantitative", "axis": null},
     "text": {"field": "t", "type": "nominal"}}},
   {"data": {"name": "l3"},
    "transform": [{"filter": "datum.ax == 'tr'"},
      {"calculate": "1.248*(datum.f-2800)+187*(datum.re-0.6)", "as": "u1"},
      {"calculate": "0.292*(datum.f-2800)-121*(datum.re-0.6)+225*datum.im", "as": "v1"}],
    "mark": {"type": "text", "align": "center", "baseline": "middle", "angle": 33, "dy": 45, "fontSize": 19},
    "encoding": {
     "x": {"field": "u1", "type": "quantitative", "axis": null},
     "y": {"field": "v1", "type": "quantitative", "axis": null},
     "text": {"field": "t", "type": "nominal"}}},
   {"data": {"name": "l3"},
    "transform": [{"filter": "datum.ax == 'tf'"},
      {"calculate": "1.248*(datum.f-2800)+187*(datum.re-0.6)", "as": "u1"},
      {"calculate": "0.292*(datum.f-2800)-121*(datum.re-0.6)+225*datum.im", "as": "v1"}],
    "mark": {"type": "text", "align": "center", "baseline": "middle", "angle": -13, "dy": 50, "fontSize": 18},
    "encoding": {
     "x": {"field": "u1", "type": "quantitative", "axis": null},
     "y": {"field": "v1", "type": "quantitative", "axis": null},
     "text": {"field": "t", "type": "nominal"}}},
   {"data": {"name": "l3"},
    "transform": [{"filter": "datum.ax == 'pl'"},
      {"calculate": "1.248*(datum.f-2800)+187*(datum.re-0.6)", "as": "u1"},
      {"calculate": "0.292*(datum.f-2800)-121*(datum.re-0.6)+225*datum.im", "as": "v1"}],
    "mark": {"type": "text", "align": "left", "baseline": "alphabetic", "fontSize": 20},
    "encoding": {
     "x": {"field": "u1", "type": "quantitative", "axis": null},
     "y": {"field": "v1", "type": "quantitative", "axis": null},
     "text": {"field": "t", "type": "nominal"}}}
  ]
 },
 {"width": 10, "height": 10, "view": {"stroke": null}, "data": {"values": [{"z": 0}]}, "mark": {"type": "point", "opacity": 0}},
 {
  "width": 217, "height": 148,
  "title": {"text": "Imaginary projection"},
  "resolve": {"axis": {"x": "independent", "y": "independent"}},
  "layer": [
   {"data": {"name": "spec"},
    "mark": {"type": "line", "interpolate": "monotone", "strokeWidth": 3, "clip": true},
    "encoding": {
     "x": {"field": "f", "type": "quantitative", "scale": {"domain": [2703, 3190], "nice": false, "zero": false}, "axis": {"orient": "bottom", "values": [2800, 2900, 3000, 3100], "labelOverlap": false, "labelExpr": "'' + datum.value", "title": "Frequency [cm⁻¹]"}},
     "y": {"field": "im", "type": "quantitative", "scale": {"domain": [0, 1.1], "nice": false}, "axis": {"orient": "left", "values": [0, 0.5, 1], "labelOverlap": false, "labelExpr": "'' + datum.value", "title": "Imaginary axis"}},
     "color": {"field": "s", "type": "nominal", "scale": {"domain": ["Ethanol", "Methanol"], "range": ["#0000FF", "#008000"]}, "legend": null}
    }},
   {"data": {"name": "pan"},
    "mark": {"type": "rule", "color": "black", "strokeWidth": 1.5},
    "encoding": {"x": {"field": "f", "type": "quantitative", "axis": {"orient": "top", "values": [2800, 2900, 3000, 3100], "labels": false, "title": null}}}},
   {"data": {"name": "pan"},
    "mark": {"type": "text", "align": "left", "baseline": "alphabetic", "fontSize": 20, "text": "(d)"},
    "encoding": {"x": {"field": "fl", "type": "quantitative", "axis": null}, "y": {"field": "im", "type": "quantitative", "axis": {"orient": "right", "values": [0, 0.5, 1], "labels": false, "title": null}}}}
  ]
 },
 {"width": 10, "height": 10, "view": {"stroke": null}, "data": {"values": [{"z": 0}]}, "mark": {"type": "point", "opacity": 0}},
 {"width": 10, "height": 10, "view": {"stroke": null}, "data": {"values": [{"z": 0}]}, "mark": {"type": "point", "opacity": 0}},
 {
  "width": 217, "height": 148,
  "title": {"text": "Complex plane"},
  "resolve": {"axis": {"x": "independent", "y": "independent"}},
  "layer": [
   {"data": {"name": "spec"},
    "mark": {"type": "line", "interpolate": "cardinal", "strokeWidth": 3, "clip": true},
    "encoding": {
     "x": {"field": "re", "type": "quantitative", "scale": {"domain": [-0.39, 0.76], "nice": false, "zero": false}, "axis": {"orient": "bottom", "values": [-0.2, 0, 0.2, 0.4, 0.6], "labelOverlap": false, "labelExpr": "'' + datum.value", "title": "Real axis"}},
     "y": {"field": "im", "type": "quantitative", "scale": {"domain": [0, 1.1], "nice": false}, "axis": {"orient": "left", "values": [0, 0.5, 1], "labelOverlap": false, "labelExpr": "'' + datum.value", "title": "Imaginary axis"}},
     "order": {"field": "f", "type": "quantitative"},
     "color": {"field": "s", "type": "nominal", "scale": {"domain": ["Ethanol", "Methanol"], "range": ["#0000FF", "#008000"]}, "legend": null}
    }},
   {"data": {"name": "mk"},
    "transform": [{"calculate": "0", "as": "o"}],
    "mark": {"type": "rule", "strokeWidth": 2.5},
    "encoding": {
     "x": {"field": "o", "type": "quantitative", "axis": {"orient": "top", "values": [-0.2, 0, 0.2, 0.4, 0.6], "labels": false, "title": null}},
     "y": {"field": "o", "type": "quantitative", "axis": {"orient": "right", "values": [0, 0.5, 1], "labels": false, "title": null}},
     "x2": {"field": "re"}, "y2": {"field": "im"},
     "stroke": {"field": "s", "type": "nominal", "scale": {"domain": ["Ethanol", "Methanol"], "range": ["#CC00CC", "#BFBF00"]}, "legend": null}}},
   {"data": {"name": "pan"},
    "transform": [{"calculate": "-0.36", "as": "xl"}, {"calculate": "0.93", "as": "yl"}],
    "mark": {"type": "text", "align": "left", "baseline": "alphabetic", "fontSize": 20, "text": "(e)"},
    "encoding": {"x": {"field": "xl", "type": "quantitative", "axis": null}, "y": {"field": "yl", "type": "quantitative", "axis": null}}}
  ]
 }
]
}
